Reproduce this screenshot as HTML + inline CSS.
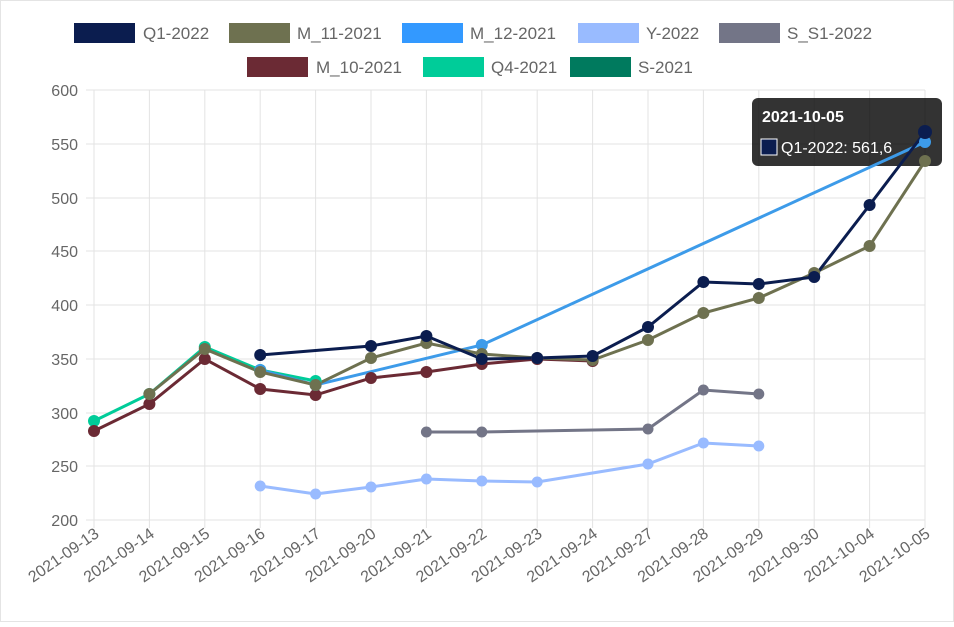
<!DOCTYPE html><html><head><meta charset="utf-8"><style>
body{margin:0;background:#fff;font-family:"Liberation Sans",sans-serif}
</style></head><body>
<svg width="954" height="622" xmlns="http://www.w3.org/2000/svg" font-family="Liberation Sans, sans-serif">
<rect x="0.5" y="0.5" width="953" height="621" fill="#fff" stroke="#e4e4e4"/>
<g id="legend" font-size="17" fill="#666">
<rect x="74" y="23" width="61" height="20" fill="#0b1d4f"/><text x="143" y="39">Q1-2022</text>
<rect x="229" y="23" width="61" height="20" fill="#6e7150"/><text x="297" y="39">M_11-2021</text>
<rect x="402" y="23" width="61" height="20" fill="#3399ff"/><text x="470" y="39">M_12-2021</text>
<rect x="578" y="23" width="61" height="20" fill="#99bbff"/><text x="646" y="39">Y-2022</text>
<rect x="719" y="23" width="61" height="20" fill="#737587"/><text x="787" y="39">S_S1-2022</text>
<rect x="247" y="57" width="61" height="20" fill="#6b2a34"/><text x="316" y="73">M_10-2021</text>
<rect x="423" y="57" width="61" height="20" fill="#00cc99"/><text x="491" y="73">Q4-2021</text>
<rect x="570" y="57" width="61" height="20" fill="#007a5e"/><text x="638" y="73">S-2021</text>
</g>
<g stroke="#e3e3e3" stroke-width="1">
<line x1="86" y1="90" x2="925" y2="90"/><line x1="86" y1="144" x2="925" y2="144"/><line x1="86" y1="198" x2="925" y2="198"/><line x1="86" y1="251" x2="925" y2="251"/><line x1="86" y1="305" x2="925" y2="305"/><line x1="86" y1="359" x2="925" y2="359"/><line x1="86" y1="413" x2="925" y2="413"/><line x1="86" y1="466" x2="925" y2="466"/><line x1="86" y1="520" x2="925" y2="520"/>
<line x1="94" y1="90" x2="94" y2="528"/><line x1="149.4" y1="90" x2="149.4" y2="528"/><line x1="204.8" y1="90" x2="204.8" y2="528"/><line x1="260.2" y1="90" x2="260.2" y2="528"/><line x1="315.6" y1="90" x2="315.6" y2="528"/><line x1="371" y1="90" x2="371" y2="528"/><line x1="426.4" y1="90" x2="426.4" y2="528"/><line x1="481.8" y1="90" x2="481.8" y2="528"/><line x1="537.2" y1="90" x2="537.2" y2="528"/><line x1="592.6" y1="90" x2="592.6" y2="528"/><line x1="648" y1="90" x2="648" y2="528"/><line x1="703.4" y1="90" x2="703.4" y2="528"/><line x1="758.8" y1="90" x2="758.8" y2="528"/><line x1="814.2" y1="90" x2="814.2" y2="528"/><line x1="869.6" y1="90" x2="869.6" y2="528"/><line x1="925" y1="90" x2="925" y2="528"/>
</g>
<g font-size="16" fill="#666" text-anchor="end">
<text x="78" y="96">600</text><text x="78" y="150">550</text><text x="78" y="204">500</text><text x="78" y="257">450</text><text x="78" y="311">400</text><text x="78" y="365">350</text><text x="78" y="419">300</text><text x="78" y="472">250</text><text x="78" y="526">200</text>
</g>
<g font-size="16" fill="#666" text-anchor="end">
<text transform="translate(100,536) rotate(-35)">2021-09-13</text>
<text transform="translate(155.4,536) rotate(-35)">2021-09-14</text>
<text transform="translate(210.8,536) rotate(-35)">2021-09-15</text>
<text transform="translate(266.2,536) rotate(-35)">2021-09-16</text>
<text transform="translate(321.6,536) rotate(-35)">2021-09-17</text>
<text transform="translate(377,536) rotate(-35)">2021-09-20</text>
<text transform="translate(432.4,536) rotate(-35)">2021-09-21</text>
<text transform="translate(487.8,536) rotate(-35)">2021-09-22</text>
<text transform="translate(543.2,536) rotate(-35)">2021-09-23</text>
<text transform="translate(598.6,536) rotate(-35)">2021-09-24</text>
<text transform="translate(654,536) rotate(-35)">2021-09-27</text>
<text transform="translate(709.4,536) rotate(-35)">2021-09-28</text>
<text transform="translate(764.8,536) rotate(-35)">2021-09-29</text>
<text transform="translate(820.2,536) rotate(-35)">2021-09-30</text>
<text transform="translate(875.6,536) rotate(-35)">2021-10-04</text>
<text transform="translate(931,536) rotate(-35)">2021-10-05</text>
</g>
<rect x="752" y="98" width="190" height="68" rx="6" fill="rgba(0,0,0,0.8)"/>
<text x="762" y="122" font-size="16" font-weight="bold" fill="#fff">2021-10-05</text>
<rect x="761" y="139" width="16" height="16" fill="#0b1d4f" stroke="#fff" stroke-width="1"/>
<text x="781" y="153" font-size="16" fill="#fff">Q1-2022: 561,6</text>
<g fill="none" stroke-width="3">
<polyline stroke="#99bbff" points="260.2,486 315.6,494 371,487 426.4,479 481.8,481 537.2,482 648,464 703.4,443 758.8,446"/>
<polyline stroke="#737587" points="426.4,432 481.8,432 648,429 703.4,390 758.8,394"/>
<polyline stroke="#00cc99" points="94,421 149.4,394 204.8,347 260.2,370 315.6,381"/>
<polyline stroke="#6b2a34" points="94,431 149.4,404 204.8,359 260.2,389 315.6,395 371,378 426.4,372 481.8,364 537.2,359 592.6,361"/>
<polyline stroke="#3d9be9" points="260.2,370 315.6,385 481.8,345 925,142"/>
<polyline stroke="#6e7150" points="149.4,394 204.8,349 260.2,372 315.6,385 371,358 426.4,343 481.8,354 537.2,358 592.6,360 648,340 703.4,313 758.8,298 814.2,273 869.6,246 925,161"/>
<polyline stroke="#0b1d4f" points="260.2,355 371,346 426.4,336 481.8,359 537.2,358 592.6,356 648,327 703.4,282 758.8,284 814.2,277 869.6,205 925,132"/>
</g>
<g fill="#99bbff"><circle cx="260.2" cy="486" r="5.5"/><circle cx="315.6" cy="494" r="5.5"/><circle cx="371" cy="487" r="5.5"/><circle cx="426.4" cy="479" r="5.5"/><circle cx="481.8" cy="481" r="5.5"/><circle cx="537.2" cy="482" r="5.5"/><circle cx="648" cy="464" r="5.5"/><circle cx="703.4" cy="443" r="5.5"/><circle cx="758.8" cy="446" r="5.5"/></g>
<g fill="#737587"><circle cx="426.4" cy="432" r="5.5"/><circle cx="481.8" cy="432" r="5.5"/><circle cx="648" cy="429" r="5.5"/><circle cx="703.4" cy="390" r="5.5"/><circle cx="758.8" cy="394" r="5.5"/></g>
<g fill="#00cc99"><circle cx="94" cy="421" r="6"/><circle cx="149.4" cy="394" r="6"/><circle cx="204.8" cy="347" r="6"/><circle cx="260.2" cy="370" r="6"/><circle cx="315.6" cy="381" r="6"/></g>
<g fill="#6b2a34"><circle cx="94" cy="431" r="6"/><circle cx="149.4" cy="404" r="6"/><circle cx="204.8" cy="359" r="6"/><circle cx="260.2" cy="389" r="6"/><circle cx="315.6" cy="395" r="6"/><circle cx="371" cy="378" r="6"/><circle cx="426.4" cy="372" r="6"/><circle cx="481.8" cy="364" r="6"/><circle cx="537.2" cy="359" r="6"/><circle cx="592.6" cy="361" r="6"/></g>
<g fill="#3d9be9"><circle cx="260.2" cy="370" r="6"/><circle cx="315.6" cy="385" r="6"/><circle cx="481.8" cy="345" r="6"/><circle cx="925" cy="142" r="6"/></g>
<g fill="#6e7150"><circle cx="149.4" cy="394" r="6"/><circle cx="204.8" cy="349" r="6"/><circle cx="260.2" cy="372" r="6"/><circle cx="315.6" cy="385" r="6"/><circle cx="371" cy="358" r="6"/><circle cx="426.4" cy="343" r="6"/><circle cx="481.8" cy="354" r="6"/><circle cx="537.2" cy="358" r="6"/><circle cx="592.6" cy="360" r="6"/><circle cx="648" cy="340" r="6"/><circle cx="703.4" cy="313" r="6"/><circle cx="758.8" cy="298" r="6"/><circle cx="814.2" cy="273" r="6"/><circle cx="869.6" cy="246" r="6"/><circle cx="925" cy="161" r="6"/></g>
<g fill="#0b1d4f"><circle cx="260.2" cy="355" r="6"/><circle cx="371" cy="346" r="6"/><circle cx="426.4" cy="336" r="6"/><circle cx="481.8" cy="359" r="6"/><circle cx="537.2" cy="358" r="6"/><circle cx="592.6" cy="356" r="6"/><circle cx="648" cy="327" r="6"/><circle cx="703.4" cy="282" r="6"/><circle cx="758.8" cy="284" r="6"/><circle cx="814.2" cy="277" r="6"/><circle cx="869.6" cy="205" r="6"/><circle cx="925" cy="132" r="7"/></g>
</svg>
</body></html>
